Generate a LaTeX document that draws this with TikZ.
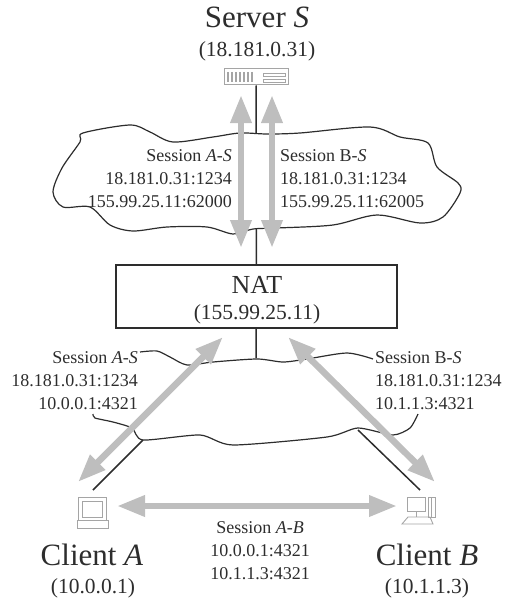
\documentclass[tikz,border=0pt]{standalone}
\usepackage{fontspec}
\setmainfont{Liberation Serif}
\definecolor{ArrowGray}{RGB}{190,190,190}
\definecolor{IconGray}{RGB}{165,165,165}
\definecolor{InkDark}{RGB}{45,45,45}
\usetikzlibrary{arrows.meta,positioning}

\begin{document}
\begin{tikzpicture}[
    x=1pt, y=-1pt, node distance=4pt, inner sep=0pt, text=InkDark,
    host/.style={font=\fontsize{31}{31}\selectfont},
    addr/.style={font=\fontsize{21.5}{22}\selectfont},
    sess/.style={font=\fontsize{18}{22.8}\selectfont},
    wire/.style={line width=1.5pt, InkDark},
    cld/.style={line width=1.2pt, InkDark},
    icon/.style={line width=.9pt, IconGray},
    flow/.style={{Triangle[length=28pt,width=20pt]}-{Triangle[length=28pt,width=20pt]}, line width=6.5pt, ArrowGray}
  ]
    \useasboundingbox (0,0) rectangle (504,599);
    % hosts
    \node[draw=IconGray, line width=1pt, minimum width=64pt, minimum height=16pt] (server) at (256,77) {};
    \node[draw=InkDark, line width=1.6pt, minimum width=281pt, minimum height=63pt] (nat) at (256.5,296.5) {};
    \node[icon, draw, minimum width=31pt, minimum height=8pt] (laptop) at (92.5,524) {};
    \node[icon, draw, minimum width=18pt, minimum height=14pt] (desktop) at (416,504) {};
    \coordinate (laptopTop) at (93,490);
    \coordinate (desktopTop) at (420,490);
    \coordinate (cloudA) at (143,440);
    \coordinate (cloudB) at (358,430);
    \coordinate (cloudTop) at (256,358);
    % wires
    \draw[wire] (server) -- (nat);
    \draw[wire] (nat) -- (cloudTop);
    \draw[wire] (cloudA) -- (laptopTop);
    \draw[wire] (cloudB) -- (desktopTop);
    % clouds
    \draw[cld, fill=white] plot[smooth cycle, tension=.5] coordinates {
      (53,192) (62,168) (80,142) (83,133) (130,125) (150,132) (173,142) (213,137)
      (240,133) (267,134) (300,133) (370,127) (400,137) (428,143) (437,167) (458,183)
      (460,193) (443,217) (420,223) (377,215) (333,225) (277,228) (253,229) (233,234)
      (207,227) (167,227) (133,231) (110,225) (90,207) (63,207)};
    \draw[cld] plot[smooth, tension=.45] coordinates {
      (140,352) (157,351) (170,357) (187,365) (213,362) (257,359) (283,362) (307,359) (347,353) (373,359)};
    \draw[cld] plot[smooth, tension=.4] coordinates {
      (418,414) (410,428) (393,435) (358,428) (327,437) (233,445) (200,435) (143,440) (132,428) (113,422) (95,418) (93,414)};
    % laptop and desktop details
    \draw[icon] (78,497) rectangle (106,520);
    \draw[icon] (82,501) rectangle (102,517);
    \draw[icon] (407,497) -- (407,511);
    \draw[icon] (428,497) rectangle (435,517);
    \draw[icon] (431,497) -- (431,517);
    \draw[icon] (416,511) -- (416,517);
    \draw[icon] (408,517) -- (430,517) -- (433,524) -- (402,524) -- cycle;
    % server details
    \foreach \sx in {228,232,236,240,244,248,252}
      \draw[icon, line width=1.4pt] (\sx,72) -- (\sx,82);
    \draw[icon] (263,73) rectangle (285,76);
    \draw[icon] (263,79) rectangle (285,82);
    % gray arrows
    \coordinate (srvL) at (241,95);
    \coordinate (srvR) at (272,95);
    \coordinate (natL) at (241,248);
    \coordinate (natR) at (272,248);
    \coordinate (natA) at (223,337);
    \coordinate (natB) at (288,337);
    \coordinate (hostA) at (78,482);
    \coordinate (hostB) at (435,482);
    \coordinate (sideA) at (117,506);
    \coordinate (sideB) at (397,506);
    \draw[flow] (srvL) -- (natL);
    \draw[flow] (srvR) -- (natR);
    \draw[flow] (natA) -- (hostA);
    \draw[flow] (natB) -- (hostB);
    \draw[flow] (sideA) -- (sideB);
    % labels
    \node[host, anchor=base] (serverName) at (257,28) {Server \textit{S}};
    \node[addr, below=13pt of serverName] (serverAddr) {(18.181.0.31)};
    \node[font=\fontsize{26}{26}\selectfont, anchor=base] (natName) at (257,293) {NAT};
    \node[addr, anchor=base] (natAddr) at (257,319) {(155.99.25.11)};
    \node[sess, align=right, anchor=north east] (sessAS) at (232,149.5) {Session \textit{A-S}\\18.181.0.31:1234\\155.99.25.11:62000};
    \node[sess, align=left, anchor=north west] (sessBS) at (280,149.5) {Session B-\textit{S}\\18.181.0.31:1234\\155.99.25.11:62005};
    \node[sess, align=right, anchor=north east] (sessA) at (138,351.5) {Session \textit{A-S}\\18.181.0.31:1234\\10.0.0.1:4321};
    \node[sess, align=left, anchor=north west] (sessB) at (375,351.5) {Session B-\textit{S}\\18.181.0.31:1234\\10.1.1.3:4321};
    \node[sess, align=center, anchor=north] (sessAB) at (260,521.5) {Session \textit{A-B}\\10.0.0.1:4321\\10.1.1.3:4321};
    \node[host, anchor=base] (clientA) at (92,565) {Client \textit{A}};
    \node[addr, anchor=base] (addrA) at (93,593) {(10.0.0.1)};
    \node[host, anchor=base] (clientB) at (427,565) {Client \textit{B}};
    \node[addr, anchor=base] (addrB) at (427,593) {(10.1.1.3)};
  \end{tikzpicture}
\end{document}
